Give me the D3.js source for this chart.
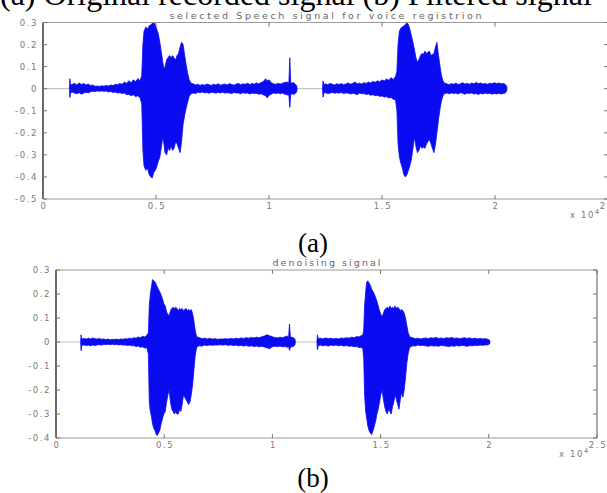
<!DOCTYPE html>
<html>
<head>
<meta charset="utf-8">
<script src="https://cdn.jsdelivr.net/npm/d3@7"></script>
<style>
  body { margin: 0; background: #fff; }
  svg { display: block; }
  .tl { font-family: "DejaVu Sans", sans-serif; font-size: 8.5px; fill: #7a7a7a; letter-spacing: 1.6px; }
  .ttl { font-family: "DejaVu Sans", sans-serif; font-size: 9.5px; fill: #666; }
  .cap { font-family: "Liberation Serif", "Times New Roman", serif; fill: #000; }
</style>
</head>
<body>
<svg id="fig" width="607" height="493"></svg>
<script>
// speech waveform envelopes: [sample x 1e4, upper, lower]
const origSeg1 = [
  [0.117,0.003,-0.003],[0.119,0.045,-0.040],[0.122,0.016,-0.018],[0.13,0.02,-0.016],[0.14,0.024,-0.02],
  [0.15,0.017,-0.023],[0.16,0.026,-0.018],[0.17,0.019,-0.025],[0.18,0.024,-0.02],[0.19,0.017,-0.016],
  [0.20,0.021,-0.019],[0.21,0.014,-0.014],[0.22,0.017,-0.012],[0.23,0.011,-0.013],[0.24,0.012,-0.01],
  [0.25,0.01,-0.012],[0.26,0.013,-0.01],[0.27,0.011,-0.012],[0.28,0.015,-0.011],[0.29,0.012,-0.015],
  [0.30,0.017,-0.013],[0.31,0.014,-0.017],[0.32,0.02,-0.015],[0.33,0.018,-0.02],[0.34,0.023,-0.018],
  [0.35,0.02,-0.022],[0.36,0.03,-0.02],[0.37,0.024,-0.027],[0.38,0.036,-0.025],[0.39,0.027,-0.032],
  [0.40,0.04,-0.028],[0.41,0.032,-0.036],[0.42,0.046,-0.032],[0.43,0.036,-0.042],[0.437,0.06,-0.07],
  [0.442,0.20,-0.28],[0.447,0.26,-0.35],[0.455,0.28,-0.37],[0.462,0.27,-0.36],[0.47,0.285,-0.39],
  [0.477,0.29,-0.40],[0.483,0.295,-0.405],[0.49,0.30,-0.38],[0.497,0.29,-0.37],[0.503,0.27,-0.355],
  [0.51,0.25,-0.33],[0.517,0.21,-0.31],[0.523,0.17,-0.27],[0.53,0.12,-0.22],[0.535,0.09,-0.25],
  [0.54,0.10,-0.29],[0.547,0.13,-0.30],[0.553,0.14,-0.27],[0.56,0.15,-0.28],[0.567,0.14,-0.26],
  [0.573,0.15,-0.28],[0.58,0.14,-0.27],[0.587,0.13,-0.24],[0.593,0.15,-0.25],[0.60,0.16,-0.27],
  [0.607,0.19,-0.29],[0.613,0.21,-0.24],[0.62,0.20,-0.16],[0.627,0.15,-0.12],[0.633,0.11,-0.09],
  [0.64,0.07,-0.06],[0.647,0.04,-0.035],[0.655,0.025,-0.022],
  [0.665,0.022,-0.02],[0.675,0.017,-0.022],[0.685,0.02,-0.016],[0.695,0.015,-0.018],[0.705,0.019,-0.015],
  [0.715,0.016,-0.019],[0.725,0.021,-0.017],[0.735,0.018,-0.021],[0.745,0.015,-0.016],[0.755,0.02,-0.018],
  [0.765,0.017,-0.02],[0.775,0.022,-0.017],[0.785,0.016,-0.019],[0.795,0.019,-0.016],[0.805,0.021,-0.02],
  [0.815,0.017,-0.018],[0.825,0.023,-0.02],[0.835,0.019,-0.022],[0.845,0.016,-0.017],[0.855,0.021,-0.019],
  [0.865,0.024,-0.02],[0.875,0.018,-0.023],[0.885,0.022,-0.018],[0.895,0.02,-0.021],[0.905,0.025,-0.019],
  [0.915,0.019,-0.024],[0.925,0.023,-0.02],[0.935,0.021,-0.022],[0.945,0.026,-0.021],[0.955,0.022,-0.025],
  [0.965,0.028,-0.023],[0.975,0.033,-0.028],[0.985,0.045,-0.032],[0.992,0.035,-0.042],[1.0,0.04,-0.03],
  [1.01,0.027,-0.025],[1.02,0.022,-0.02],[1.03,0.02,-0.022],[1.04,0.024,-0.019],[1.05,0.021,-0.023],
  [1.06,0.025,-0.02],[1.07,0.028,-0.025],[1.08,0.03,-0.028],[1.088,0.026,-0.03],[1.092,0.14,-0.085],
  [1.096,0.03,-0.03],[1.10,0.025,-0.022],[1.108,0.028,-0.026],[1.116,0.02,-0.022],[1.122,0.015,-0.016],
  [1.124,0.003,-0.003]
];
const origSeg2 = [
  [1.237,0.003,-0.003],[1.239,0.035,-0.038],[1.243,0.018,-0.02],[1.25,0.022,-0.018],[1.26,0.018,-0.022],
  [1.27,0.024,-0.02],[1.28,0.02,-0.017],[1.29,0.017,-0.021],[1.30,0.022,-0.018],[1.31,0.019,-0.02],
  [1.32,0.023,-0.017],[1.33,0.018,-0.022],[1.34,0.021,-0.019],[1.35,0.026,-0.02],[1.36,0.02,-0.024],
  [1.37,0.024,-0.021],[1.38,0.03,-0.023],[1.39,0.022,-0.027],[1.40,0.025,-0.02],[1.41,0.021,-0.023],
  [1.42,0.027,-0.022],[1.43,0.024,-0.026],[1.44,0.03,-0.024],[1.45,0.026,-0.03],[1.46,0.033,-0.027],
  [1.47,0.029,-0.032],[1.48,0.036,-0.03],[1.49,0.031,-0.035],[1.50,0.04,-0.033],[1.51,0.035,-0.038],
  [1.52,0.044,-0.036],[1.53,0.038,-0.042],[1.54,0.05,-0.04],[1.55,0.042,-0.048],[1.56,0.055,-0.05],
  [1.566,0.08,-0.1],
  [1.571,0.2,-0.25],[1.577,0.26,-0.31],[1.584,0.275,-0.34],[1.59,0.28,-0.36],[1.597,0.285,-0.39],
  [1.603,0.29,-0.40],[1.61,0.30,-0.39],[1.617,0.29,-0.37],[1.623,0.27,-0.35],[1.63,0.24,-0.32],
  [1.637,0.21,-0.27],[1.643,0.18,-0.22],[1.65,0.14,-0.26],[1.657,0.12,-0.29],[1.663,0.13,-0.28],
  [1.67,0.15,-0.26],[1.677,0.16,-0.27],[1.683,0.155,-0.265],[1.69,0.17,-0.27],[1.697,0.16,-0.25],
  [1.703,0.165,-0.24],[1.71,0.17,-0.23],[1.717,0.15,-0.25],[1.723,0.155,-0.27],[1.73,0.16,-0.29],
  [1.737,0.19,-0.25],[1.743,0.21,-0.2],[1.75,0.15,-0.14],[1.757,0.1,-0.09],[1.763,0.06,-0.055],
  [1.77,0.035,-0.032],[1.777,0.025,-0.022],
  [1.787,0.022,-0.02],[1.797,0.018,-0.023],[1.807,0.023,-0.019],[1.817,0.02,-0.022],[1.827,0.025,-0.02],
  [1.837,0.019,-0.024],[1.847,0.022,-0.018],[1.857,0.027,-0.021],[1.867,0.021,-0.025],[1.877,0.024,-0.02],
  [1.887,0.02,-0.022],[1.897,0.026,-0.019],[1.907,0.022,-0.024],[1.917,0.028,-0.022],[1.927,0.023,-0.026],
  [1.937,0.026,-0.021],[1.947,0.021,-0.024],[1.957,0.024,-0.02],[1.967,0.02,-0.023],[1.977,0.025,-0.021],
  [1.987,0.022,-0.025],[1.997,0.027,-0.022],[2.007,0.023,-0.024],[2.017,0.026,-0.021],[2.027,0.022,-0.024],
  [2.037,0.024,-0.022],[2.045,0.02,-0.02],[2.051,0.012,-0.012],[2.053,0.003,-0.003]
];
const denSeg1 = [
  [0.114,0.003,-0.003],[0.116,0.03,-0.036],[0.119,0.012,-0.014],[0.13,0.015,-0.012],[0.14,0.012,-0.015],
  [0.15,0.016,-0.013],[0.16,0.013,-0.016],[0.17,0.017,-0.012],[0.18,0.014,-0.015],[0.19,0.012,-0.012],
  [0.20,0.015,-0.011],[0.21,0.011,-0.013],[0.22,0.013,-0.01],[0.23,0.01,-0.011],[0.24,0.012,-0.009],
  [0.25,0.009,-0.011],[0.26,0.011,-0.009],[0.27,0.01,-0.011],[0.28,0.012,-0.01],[0.29,0.01,-0.012],
  [0.30,0.013,-0.011],[0.31,0.011,-0.013],[0.32,0.014,-0.012],[0.33,0.013,-0.015],[0.34,0.016,-0.013],
  [0.35,0.014,-0.016],[0.36,0.018,-0.015],[0.37,0.016,-0.019],[0.38,0.021,-0.017],[0.39,0.018,-0.022],
  [0.40,0.024,-0.02],[0.41,0.021,-0.025],[0.42,0.028,-0.024],[0.427,0.04,-0.05],
  [0.431,0.15,-0.25],[0.436,0.2,-0.29],[0.441,0.23,-0.31],[0.446,0.26,-0.34],[0.452,0.255,-0.36],
  [0.458,0.25,-0.37],[0.463,0.24,-0.385],[0.468,0.23,-0.39],[0.473,0.22,-0.38],[0.479,0.21,-0.37],
  [0.486,0.195,-0.34],[0.492,0.18,-0.32],[0.498,0.16,-0.3],[0.505,0.15,-0.29],[0.511,0.125,-0.25],
  [0.517,0.115,-0.22],[0.523,0.11,-0.2],[0.529,0.13,-0.25],[0.535,0.14,-0.28],[0.541,0.145,-0.29],
  [0.547,0.14,-0.3],[0.553,0.145,-0.29],[0.559,0.14,-0.3],[0.565,0.13,-0.3],[0.571,0.14,-0.28],
  [0.577,0.135,-0.29],[0.583,0.14,-0.26],[0.589,0.13,-0.22],[0.595,0.135,-0.23],[0.601,0.14,-0.24],
  [0.607,0.13,-0.25],[0.613,0.135,-0.26],[0.619,0.13,-0.25],[0.625,0.135,-0.22],[0.631,0.12,-0.18],
  [0.637,0.09,-0.12],[0.643,0.05,-0.06],[0.649,0.025,-0.025],[0.655,0.02,-0.018],
  [0.663,0.018,-0.016],[0.675,0.014,-0.017],[0.687,0.016,-0.013],[0.699,0.013,-0.015],[0.711,0.015,-0.012],
  [0.723,0.012,-0.014],[0.735,0.014,-0.012],[0.747,0.011,-0.013],[0.759,0.013,-0.011],[0.771,0.012,-0.013],
  [0.783,0.014,-0.011],[0.795,0.012,-0.014],[0.807,0.015,-0.012],[0.819,0.013,-0.015],[0.831,0.016,-0.013],
  [0.843,0.014,-0.016],[0.855,0.017,-0.014],[0.867,0.015,-0.017],[0.879,0.018,-0.015],[0.891,0.016,-0.018],
  [0.903,0.019,-0.016],[0.915,0.017,-0.019],[0.927,0.02,-0.017],[0.939,0.018,-0.02],[0.951,0.022,-0.018],
  [0.963,0.025,-0.021],[0.975,0.03,-0.024],[0.987,0.026,-0.028],[0.999,0.022,-0.02],[1.011,0.019,-0.018],
  [1.023,0.017,-0.019],[1.035,0.02,-0.017],[1.047,0.018,-0.02],[1.059,0.022,-0.019],[1.069,0.025,-0.022],
  [1.075,0.02,-0.02],[1.079,0.075,-0.035],[1.083,0.022,-0.022],[1.09,0.02,-0.02],[1.098,0.017,-0.018],
  [1.104,0.012,-0.012],[1.106,0.003,-0.003]
];
const denSeg2 = [
  [1.206,0.003,-0.003],[1.208,0.03,-0.033],[1.212,0.014,-0.015],[1.222,0.016,-0.013],[1.234,0.013,-0.016],
  [1.246,0.017,-0.014],[1.258,0.014,-0.017],[1.27,0.016,-0.013],[1.282,0.013,-0.015],[1.294,0.015,-0.013],
  [1.306,0.013,-0.016],[1.318,0.017,-0.014],[1.33,0.015,-0.017],[1.342,0.018,-0.015],[1.354,0.016,-0.018],
  [1.366,0.02,-0.017],[1.378,0.018,-0.02],[1.39,0.023,-0.019],[1.40,0.021,-0.023],[1.41,0.026,-0.022],
  [1.418,0.03,-0.028],[1.422,0.05,-0.07],
  [1.426,0.15,-0.22],[1.431,0.21,-0.29],[1.436,0.25,-0.32],[1.441,0.255,-0.35],[1.447,0.245,-0.37],
  [1.453,0.235,-0.38],[1.459,0.22,-0.385],[1.465,0.21,-0.37],[1.471,0.2,-0.35],[1.477,0.185,-0.33],
  [1.483,0.17,-0.3],[1.489,0.15,-0.28],[1.495,0.13,-0.25],[1.501,0.115,-0.22],[1.507,0.105,-0.2],
  [1.513,0.12,-0.24],[1.519,0.135,-0.27],[1.525,0.14,-0.29],[1.531,0.145,-0.3],[1.537,0.14,-0.28],
  [1.543,0.15,-0.29],[1.549,0.14,-0.3],[1.555,0.145,-0.27],[1.561,0.14,-0.25],[1.567,0.15,-0.22],
  [1.573,0.14,-0.24],[1.579,0.145,-0.26],[1.585,0.14,-0.28],[1.591,0.13,-0.24],[1.597,0.135,-0.21],
  [1.603,0.13,-0.23],[1.609,0.12,-0.2],[1.615,0.1,-0.15],[1.621,0.07,-0.09],[1.627,0.04,-0.05],
  [1.633,0.025,-0.025],[1.639,0.02,-0.02],
  [1.648,0.018,-0.016],[1.66,0.014,-0.017],[1.672,0.016,-0.013],[1.684,0.013,-0.015],[1.696,0.015,-0.014],
  [1.708,0.017,-0.016],[1.72,0.014,-0.018],[1.732,0.018,-0.015],[1.744,0.016,-0.017],[1.756,0.019,-0.016],
  [1.768,0.015,-0.018],[1.78,0.017,-0.014],[1.792,0.014,-0.016],[1.804,0.018,-0.017],[1.816,0.016,-0.019],
  [1.828,0.019,-0.016],[1.84,0.015,-0.018],[1.852,0.017,-0.015],[1.864,0.014,-0.017],[1.876,0.016,-0.014],
  [1.888,0.018,-0.016],[1.90,0.015,-0.018],[1.912,0.017,-0.015],[1.924,0.014,-0.016],[1.936,0.016,-0.014],
  [1.948,0.013,-0.015],[1.96,0.015,-0.013],[1.972,0.013,-0.014],[1.984,0.014,-0.012],[1.996,0.011,-0.012],
  [2.003,0.008,-0.008],[2.005,0.003,-0.003]
];

// axis ticks
const xTicks = [0, 0.5, 1, 1.5, 2, 2.5];
const yTicksA = [0.3, 0.2, 0.1, 0, -0.1, -0.2, -0.3, -0.4, -0.5];
const yTicksB = [0.3, 0.2, 0.1, 0, -0.1, -0.2, -0.3, -0.4];

const headerText = "(a) Original recorded signal (b) Filtered signal";
const titleA = "selected Speech signal for voice registrion";
const titleB = "denoising signal";

const svg = d3.select("#fig");
const blue = "#0b0bf2";

// header line, top half cut off by the page edge
svg.append("text").attr("class", "cap").attr("x", 0).attr("y", 5)
  .style("font-size", "32px").text(headerText);

function panel(o) {
  const x = d3.scaleLinear().domain([0, 2.5]).range([o.left, o.right]);
  const y = d3.scaleLinear().domain(o.yDomain).range([o.bottom, o.top]);
  const g = svg.append("g");

  // zero line where the signal is silent
  const last = o.segs[o.segs.length - 1];
  g.append("line").attr("x1", x(0)).attr("x2", x(last[last.length - 1][0]))
    .attr("y1", y(0)).attr("y2", y(0)).attr("stroke", "#c4c4cc").attr("stroke-width", 1.2);

  const area = d3.area().x(d => x(d[0])).y0(d => y(d[2])).y1(d => y(d[1]));
  o.segs.forEach(s => {
    g.append("path").attr("d", area(s)).attr("fill", blue)
      .attr("stroke", blue).attr("stroke-width", 0.8).attr("stroke-linejoin", "round");
  });

  // box
  g.append("line").attr("x1", o.left).attr("x2", o.right).attr("y1", o.top).attr("y2", o.top)
    .attr("stroke", "#9a9a9a").attr("stroke-width", 1.2);
  g.append("line").attr("x1", o.left).attr("x2", o.right).attr("y1", o.bottom).attr("y2", o.bottom)
    .attr("stroke", "#9a9a9a").attr("stroke-width", 1.2);
  g.append("line").attr("x1", o.left).attr("x2", o.left).attr("y1", o.top).attr("y2", o.bottom)
    .attr("stroke", "#444").attr("stroke-width", 1.6);
  g.append("line").attr("x1", o.right).attr("x2", o.right).attr("y1", o.top).attr("y2", o.bottom)
    .attr("stroke", "#777").attr("stroke-width", 1.2);

  // inward ticks on all sides
  const tk = g.append("g").attr("stroke", "#777").attr("stroke-width", 1);
  xTicks.forEach(t => {
    tk.append("line").attr("x1", x(t)).attr("x2", x(t)).attr("y1", o.bottom).attr("y2", o.bottom - 4);
    tk.append("line").attr("x1", x(t)).attr("x2", x(t)).attr("y1", o.top).attr("y2", o.top + 4);
  });
  o.yTicks.forEach(t => {
    tk.append("line").attr("x1", o.left).attr("x2", o.left + 4).attr("y1", y(t)).attr("y2", y(t));
    tk.append("line").attr("x1", o.right).attr("x2", o.right - 4).attr("y1", y(t)).attr("y2", y(t));
  });

  g.selectAll(".yl").data(o.yTicks).enter().append("text").attr("class", "tl")
    .attr("x", o.left - 5).attr("y", d => y(d) + 3).attr("text-anchor", "end").text(d => String(d));
  g.selectAll(".xl").data(xTicks).enter().append("text").attr("class", "tl")
    .attr("x", d => x(d) + 1).attr("y", o.bottom + 10).attr("text-anchor", "middle").text(d => String(d));

  const ex = g.append("text").attr("class", "tl").attr("x", o.right - 38).attr("y", o.bottom + 19);
  ex.append("tspan").text("x 10");
  ex.append("tspan").attr("dy", -4).style("font-size", "6.5px").text("4");

  g.append("text").attr("class", "ttl").attr("x", (o.left + o.right) / 2).attr("y", o.top - 4)
    .attr("text-anchor", "middle").attr("textLength", o.titleW).attr("lengthAdjust", "spacing").text(o.title);

  svg.append("text").attr("class", "cap").attr("x", o.capX).attr("y", o.capY)
    .attr("text-anchor", "middle").style("font-size", "27px").text(o.cap);
}

panel({ left: 43, right: 608, top: 22.5, bottom: 199, yDomain: [-0.5, 0.3], yTicks: yTicksA,
  segs: [origSeg1, origSeg2], title: titleA, titleW: 312, cap: "(a)", capX: 313, capY: 252 });
panel({ left: 56, right: 597, top: 270, bottom: 438, yDomain: [-0.4, 0.3], yTicks: yTicksB,
  segs: [denSeg1, denSeg2], title: titleB, titleW: 108, cap: "(b)", capX: 313, capY: 487 });
</script>
</body>
</html>
